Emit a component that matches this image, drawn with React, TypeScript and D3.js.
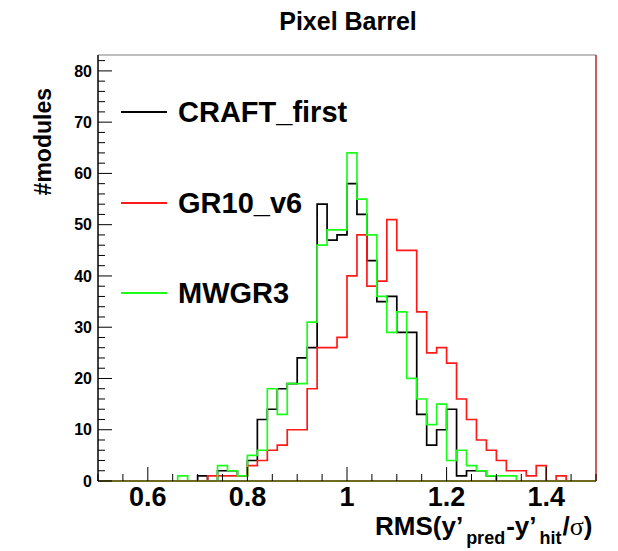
import React from "react";
import * as d3 from "d3";

// ---- data (bin width 0.02, from 0.50 to 1.50) ----
const binStart = 0.5;
const binWidth = 0.02;
const craftFirst = [
  0, 0, 0, 0, 0, 0, 0, 0, 0, 0,
  1, 0, 2, 2, 1, 4, 12, 14, 18, 19,
  24, 26, 54, 47, 48, 58, 52, 43, 35, 36,
  29, 29, 13, 7, 10, 14, 1, 2, 2, 1,
  0, 0, 0, 0, 0, 0, 0, 0, 0, 0,
];
const gr10v6 = [
  0, 0, 0, 0, 0, 0, 0, 0, 0, 0,
  0, 1, 1, 1, 1, 3, 4, 6, 7, 10,
  10, 18, 26, 26, 28, 40, 48, 38, 39, 51,
  45, 45, 33, 25, 26, 23, 16, 12, 8, 6,
  4, 2, 2, 1, 3, 0, 1, 0, 0, 0,
];
const mwgr3 = [
  0, 0, 0, 0, 0, 0, 0, 0, 1, 0,
  0, 0, 3, 2, 1, 5, 6, 18, 13, 19,
  19, 31, 46, 49, 49, 64, 55, 48, 36, 29,
  33, 20, 16, 11, 15, 4, 6, 3, 2, 1,
  1, 1, 0, 0, 0, 0, 0, 0, 0, 0,
];
const seriesNames = ["CRAFT_first", "GR10_v6", "MWGR3"];
const seriesColors = ["#000000", "#ff1a1a", "#1aff1a"];
const seriesData = [craftFirst, gr10v6, mwgr3];
const xMajorTicks = [0.6, 0.8, 1.0, 1.2, 1.4];
const xTickLabels = ["0.6", "0.8", "1", "1.2", "1.4"];
const yMajorTicks = [0, 10, 20, 30, 40, 50, 60, 70, 80];

const W = 618;
const H = 551;
const FONT = "'Liberation Sans', Arial, Helvetica, sans-serif";

export default function App() {
  const x = d3.scaleLinear().domain([0.5, 1.5]).range([98, 596]);
  const y = d3.scaleLinear().domain([0, 83.1]).range([481, 55]);

  const stepPath = (vals: number[]) => {
    const pts: [number, number][] = [[x(binStart), y(0)]];
    vals.forEach((v, i) => {
      const lo = binStart + i * binWidth;
      const hi = lo + binWidth;
      pts.push([x(lo), y(v)]);
      pts.push([x(hi), y(v)]);
    });
    pts.push([x(binStart + vals.length * binWidth), y(0)]);
    return d3.line()(pts) || "";
  };

  const xMinor = d3.range(0.5, 1.5001, 0.05).filter(
    (t) => !xMajorTicks.some((m) => Math.abs(m - t) < 1e-6)
  );
  const yMinor = d3.range(0, 83, 2).filter((t) => t % 10 !== 0);

  const legendY = [112, 203, 293];

  return (
    <svg
      width={W}
      height={H}
      style={{ position: "absolute", left: 0, top: 0, background: "#fff" }}
      fontFamily={FONT}
    >
      <rect x={0} y={0} width={W} height={H} fill="#fff" />
      {/* title */}
      <text x={348} y={30} textAnchor="middle" fontSize={25} fontWeight="bold">
        Pixel Barrel
      </text>

      {/* frame top & right */}
      <line x1={98} x2={596} y1={55} y2={55} stroke="#aaaaaa" strokeWidth={1.5} />
      <line x1={596} x2={596} y1={55} y2={481} stroke="#c02424" strokeWidth={1.5} />

      {/* histograms */}
      {seriesData.map((vals, k) => (
        <path
          key={k}
          d={stepPath(vals)}
          fill="none"
          stroke={seriesColors[k]}
          strokeWidth={1.7}
        />
      ))}

      {/* x axis */}
      <line x1={98} x2={596} y1={481} y2={481} stroke="#6f6a22" strokeWidth={1.8} />
      {xMajorTicks.map((t) => (
        <line key={"xM" + t} x1={x(t)} x2={x(t)} y1={481} y2={467} stroke="#000" strokeWidth={1} />
      ))}
      {xMinor.map((t) => (
        <line key={"xm" + t} x1={x(t)} x2={x(t)} y1={481} y2={474} stroke="#000" strokeWidth={1} />
      ))}
      {xMajorTicks.map((t, i) => (
        <text key={"xl" + t} x={x(t)} y={506} textAnchor="middle" fontSize={27} fontWeight="bold">
          {xTickLabels[i]}
        </text>
      ))}
      <text x={375} y={535} textAnchor="start" fontSize={26} fontWeight="bold">
        RMS(y’
        <tspan fontSize={18} dy={9} dx={3}>pred</tspan>
        <tspan dy={-9} dx={1}>-y’</tspan>
        <tspan fontSize={18} dy={9} dx={3}>hit</tspan>
        <tspan dy={-9} dx={1}>/</tspan>
        <tspan fontFamily="'Liberation Serif', 'DejaVu Serif', serif" fontWeight="normal">σ</tspan>
        )
      </text>

      {/* y axis */}
      <line x1={98} x2={98} y1={55} y2={481} stroke="#000" strokeWidth={1.5} />
      {yMajorTicks.map((t) => (
        <line key={"yM" + t} x1={98} x2={112} y1={y(t)} y2={y(t)} stroke="#000" strokeWidth={1} />
      ))}
      {yMinor.map((t) => (
        <line key={"ym" + t} x1={98} x2={105} y1={y(t)} y2={y(t)} stroke="#000" strokeWidth={1} />
      ))}
      {yMajorTicks.map((t) => (
        <text key={"yl" + t} x={92} y={y(t)} dy="0.36em" textAnchor="end" fontSize={16} fontWeight="bold">
          {t}
        </text>
      ))}
      <text
        transform="translate(51,88) rotate(-90)"
        textAnchor="end"
        fontSize={23}
        fontWeight="bold"
      >
        #modules
      </text>

      {/* legend */}
      {seriesNames.map((n, k) => (
        <g key={n}>
          <line x1={121} x2={167} y1={legendY[k]} y2={legendY[k]} stroke={seriesColors[k]} strokeWidth={2} />
          <text x={178} y={legendY[k]} dy="0.36em" fontSize={29} fontWeight="bold">
            {n}
          </text>
        </g>
      ))}
    </svg>
  );
}
